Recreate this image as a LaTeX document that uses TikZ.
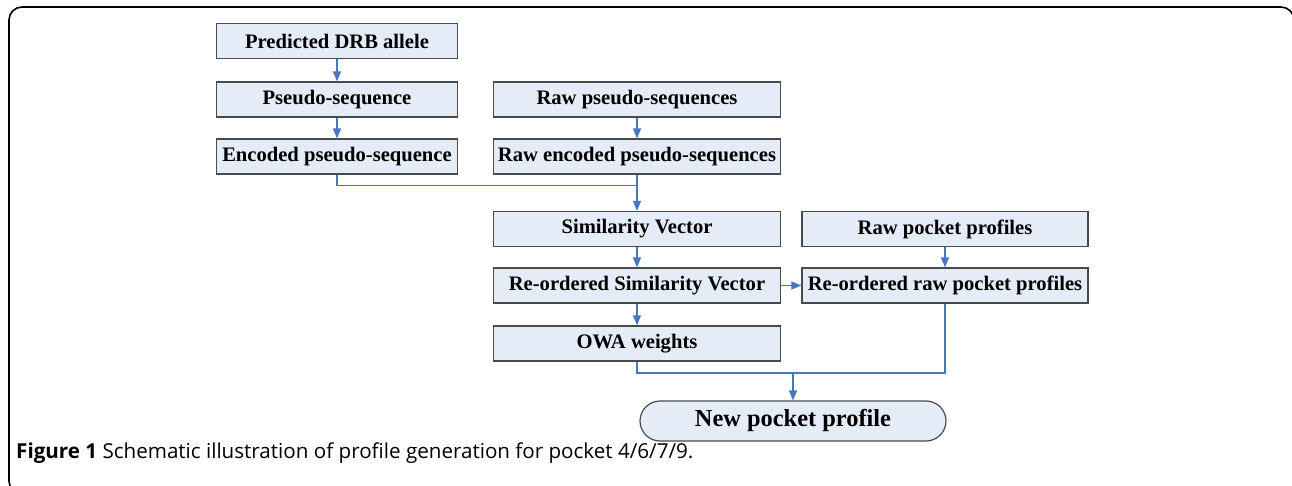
\documentclass[tikz,border=0pt]{standalone}
\usepackage{fontspec}
\setmainfont{Liberation Serif}
\newfontfamily\capfont{Open Sans}
\usepackage{xcolor}
\usepackage{tikz}
\usetikzlibrary{arrows}
\definecolor{boxfill}{HTML}{E4ECF7}
\definecolor{boxline}{HTML}{4A4A4A}
\definecolor{flow}{HTML}{4677C0}

\begin{document}
\begin{tikzpicture}[x=1pt,y=-1pt,
    stepbox/.style={draw=boxline,fill=boxfill,line width=1.4pt,
      minimum height=35pt,inner sep=0pt,
      font=\fontsize{20.6}{22}\selectfont\bfseries},
    endbox/.style={draw=boxline,fill=boxfill,line width=1.2pt,
      rounded corners=20pt,minimum height=40pt,minimum width=306pt,
      inner sep=0pt,font=\fontsize{24.4}{26}\selectfont\bfseries},
    flowline/.style={draw=flow,line width=1.3pt},
    flowarrow/.style={flowline,-triangle 45}]
  \useasboundingbox (0,0) rectangle (1292,486);
  % frame round the figure
  \begin{scope}
    \clip (0,0) rectangle (1292,486);
    \draw[line width=1.6pt,rounded corners=13pt] (9,7) rectangle (1294,494);
  \end{scope}
  % left column
  \node[stepbox,minimum width=241pt] (allele) at (337,41) {Predicted DRB allele};
  \node[stepbox,minimum width=241pt] (pseudo) at (337,99.5) {Pseudo-sequence};
  \node[stepbox,minimum width=241pt] (encoded) at (337,156.5) {Encoded pseudo-sequence};
  % middle column
  \node[stepbox,minimum width=287pt] (rawpseudo) at (637,99.5) {Raw pseudo-sequences};
  \node[stepbox,minimum width=287pt] (rawencoded) at (637,156.5) {Raw encoded pseudo-sequences};
  \node[stepbox,minimum width=287pt] (simvec) at (637,229) {Similarity Vector};
  \node[stepbox,minimum width=287pt] (reordsim) at (637,285.5) {Re-ordered Similarity Vector};
  \node[stepbox,minimum width=287pt] (owa) at (637,343.5) {OWA weights};
  % right column
  \node[stepbox,minimum width=286pt] (rawpocket) at (945,229) {Raw pocket profiles};
  \node[stepbox,minimum width=286pt] (reordpocket) at (945,285.5) {Re-ordered raw pocket profiles};
  % result
  \node[endbox] (newprofile) at (793,421) {New pocket profile};
  \coordinate (join1) at (637,185.5);
  \coordinate (join2) at (793,373);
  % connectors
  \draw[flowarrow] (allele) -- (pseudo);
  \draw[flowarrow] (pseudo) -- (encoded);
  \draw[flowarrow] (rawpseudo) -- (rawencoded);
  \draw[flowline] (encoded.south) |- (join1);
  \draw[flowarrow] (rawencoded) -- (simvec);
  \draw[flowarrow] (simvec) -- (reordsim);
  \draw[flowarrow] (reordsim) -- (owa);
  \draw[flowarrow] (reordsim) -- (reordpocket);
  \draw[flowarrow] (rawpocket) -- (reordpocket);
  \draw[flowline] (owa.south) |- (join2);
  \draw[flowline] (reordpocket.south) |- (join2);
  \draw[flowarrow] (join2) -- (newprofile);
  % caption
  \node[anchor=base west,inner sep=0pt,font=\capfont\fontsize{20.6}{22}\selectfont] (caption) at (16,458)
    {\textbf{Figure 1} Schematic illustration of profile generation for pocket 4/6/7/9.};
\end{tikzpicture}
\end{document}
